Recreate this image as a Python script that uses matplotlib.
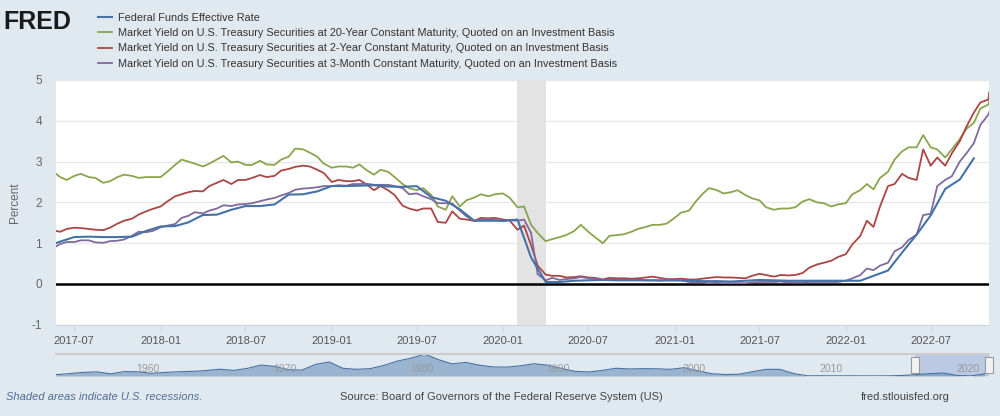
import numpy as np
import pandas as pd
import matplotlib
matplotlib.use("Agg")
import matplotlib.pyplot as plt
from matplotlib.patches import Rectangle
import matplotlib.transforms as mtransforms

plt.rcParams['font.family'] = ['Liberation Sans Narrow', 'Liberation Sans', 'DejaVu Sans']
plt.rcParams['axes.unicode_minus'] = False

# --- daily series, sampled on the 1st / 15th of each month ---
dates = pd.to_datetime(['2017-05-23']
                       + list(pd.date_range('2017-06-01', '2022-11-01', freq='SMS').strftime('%Y-%m-%d'))
                       + ['2022-11-03'])

yield_20y = [
    2.70,
    2.62, 2.55, 2.65, 2.70, 2.62, 2.60, 2.48, 2.52, 2.62, 2.68, 2.65, 2.60, 2.62, 2.62,
    2.62, 2.75, 2.92, 3.05, 3.00, 2.95, 2.88, 2.95, 3.05, 3.14, 2.98, 3.00, 2.92, 2.92, 3.02, 2.93, 2.92, 3.05, 3.12, 3.32, 3.30, 3.22, 3.12, 2.95,
    2.85, 2.88, 2.88, 2.85, 2.93, 2.80, 2.68, 2.80, 2.75, 2.62, 2.45, 2.35, 2.30, 2.35, 2.18, 1.90, 1.82, 2.15, 1.90, 2.05, 2.12, 2.20, 2.15, 2.20,
    2.22, 2.12, 1.88, 1.90, 1.45, 1.25, 1.05, 1.10, 1.15, 1.20, 1.30, 1.45, 1.28, 1.15, 1.00, 1.18, 1.20, 1.22, 1.28, 1.35, 1.40, 1.45, 1.45, 1.48,
    1.62, 1.75, 1.80, 2.02, 2.20, 2.35, 2.30, 2.22, 2.25, 2.30, 2.18, 2.10, 2.05, 1.88, 1.82, 1.85, 1.85, 1.88, 2.02, 2.08, 2.00, 1.98, 1.90, 1.95,
    1.98, 2.20, 2.30, 2.45, 2.32, 2.60, 2.75, 3.05, 3.25, 3.35, 3.35, 3.65, 3.35, 3.30, 3.10, 3.30, 3.55, 3.80, 3.95, 4.30, 4.40,
    4.48]

yield_2y = [
    1.30,
    1.28, 1.35, 1.38, 1.37, 1.35, 1.33, 1.32, 1.38, 1.48, 1.55, 1.60, 1.70, 1.78, 1.84,
    1.90, 2.02, 2.15, 2.20, 2.25, 2.28, 2.27, 2.40, 2.48, 2.55, 2.45, 2.55, 2.55, 2.60, 2.67, 2.62, 2.65, 2.78, 2.82, 2.87, 2.90, 2.88, 2.80, 2.72,
    2.50, 2.55, 2.52, 2.52, 2.55, 2.45, 2.30, 2.40, 2.30, 2.18, 1.92, 1.85, 1.80, 1.85, 1.85, 1.52, 1.50, 1.78, 1.60, 1.58, 1.55, 1.62, 1.61, 1.62,
    1.58, 1.56, 1.33, 1.43, 0.95, 0.45, 0.23, 0.20, 0.20, 0.16, 0.17, 0.19, 0.16, 0.15, 0.11, 0.15, 0.14, 0.14, 0.13, 0.14, 0.16, 0.18, 0.15, 0.12,
    0.12, 0.13, 0.11, 0.11, 0.13, 0.15, 0.17, 0.16, 0.16, 0.15, 0.14, 0.20, 0.25, 0.22, 0.18, 0.22, 0.21, 0.22, 0.27, 0.40, 0.48, 0.52, 0.57, 0.66,
    0.73, 0.97, 1.18, 1.55, 1.40, 1.90, 2.40, 2.45, 2.70, 2.60, 2.55, 3.30, 2.90, 3.10, 2.90, 3.20, 3.50, 3.85, 4.20, 4.45, 4.52,
    4.70]

yield_3m = [
    0.92,
    0.98, 1.03, 1.03, 1.07, 1.07, 1.02, 1.01, 1.05, 1.06, 1.09, 1.18, 1.28, 1.27, 1.30,
    1.39, 1.43, 1.47, 1.62, 1.67, 1.76, 1.73, 1.80, 1.85, 1.93, 1.91, 1.95, 1.96, 1.98, 2.03, 2.07, 2.11, 2.17, 2.23, 2.31, 2.34, 2.35, 2.37, 2.40,
    2.40, 2.42, 2.41, 2.45, 2.45, 2.46, 2.43, 2.43, 2.43, 2.40, 2.35, 2.20, 2.22, 2.15, 2.08, 1.98, 1.98, 1.97, 1.80, 1.66, 1.54, 1.58, 1.59, 1.57,
    1.54, 1.56, 1.55, 1.58, 1.25, 0.24, 0.09, 0.15, 0.10, 0.12, 0.14, 0.17, 0.14, 0.13, 0.10, 0.10, 0.11, 0.10, 0.10, 0.11, 0.09, 0.09, 0.08, 0.09,
    0.09, 0.09, 0.05, 0.04, 0.04, 0.02, 0.03, 0.02, 0.02, 0.02, 0.02, 0.04, 0.05, 0.05, 0.05, 0.06, 0.04, 0.04, 0.04, 0.05, 0.05, 0.05, 0.05, 0.05,
    0.08, 0.14, 0.22, 0.38, 0.34, 0.45, 0.52, 0.80, 0.90, 1.08, 1.21, 1.69, 1.72, 2.40, 2.55, 2.64, 3.00, 3.20, 3.45, 3.90, 4.15,
    4.22]

# --- monthly fed funds ---
ff_dates = pd.date_range('2017-05-01', '2022-10-01', freq='MS')
fed_funds = [
    0.91, 1.04, 1.15, 1.16, 1.15, 1.15, 1.16, 1.30,
    1.41, 1.42, 1.51, 1.69, 1.70, 1.82, 1.91, 1.91, 1.95, 2.19, 2.20, 2.27,
    2.40, 2.40, 2.41, 2.42, 2.39, 2.38, 2.40, 2.13, 2.04, 1.83, 1.55, 1.55,
    1.55, 1.58, 0.65, 0.05, 0.05, 0.08, 0.09, 0.10, 0.09, 0.09, 0.09, 0.09,
    0.09, 0.08, 0.07, 0.07, 0.06, 0.08, 0.10, 0.09, 0.08, 0.08, 0.08, 0.08,
    0.08, 0.08, 0.20, 0.33, 0.77, 1.21, 1.68, 2.33, 2.56, 3.08]

recession = ('2020-02-01', '2020-04-01')
x_ticks = pd.date_range('2017-07-01', '2022-07-01', freq='6MS')

# navigator: annual average fed funds, whole history
nav_years = np.arange(1954, 2023) + 0.5
nav_ff = [1.0, 1.8, 2.7, 3.1, 1.6, 3.3, 3.2, 2.0, 2.7, 3.2, 3.5, 4.1, 5.1, 4.2, 5.7, 8.2,
          7.2, 4.7, 4.4, 8.7, 10.5, 5.8, 5.0, 5.5, 7.9, 11.2, 13.4, 16.4, 12.3, 9.1, 10.2, 8.1,
          6.8, 6.7, 7.6, 9.2, 8.1, 5.7, 3.5, 3.0, 4.2, 5.8, 5.3, 5.5, 5.4, 5.0, 6.2, 3.9,
          1.7, 1.1, 1.35, 3.2, 5.0, 5.0, 1.9, 0.16, 0.18, 0.1, 0.14, 0.11, 0.09, 0.13, 0.4,
          1.0, 1.8, 2.2, 0.4, 0.08, 1.7]
nav_labels = [1960, 1970, 1980, 1990, 2000, 2010, 2020]

labels = ['Federal Funds Effective Rate',
          'Market Yield on U.S. Treasury Securities at 20-Year Constant Maturity, Quoted on an Investment Basis',
          'Market Yield on U.S. Treasury Securities at 2-Year Constant Maturity, Quoted on an Investment Basis',
          'Market Yield on U.S. Treasury Securities at 3-Month Constant Maturity, Quoted on an Investment Basis']
colors = ['#4572a7', '#89a54e', '#aa4643', '#80699b']

bg = '#e1e9f0'
fig = plt.figure(figsize=(10, 4.16), dpi=100, facecolor=bg)

ax = fig.add_axes([0.056, 1 - 324.8 / 416, 0.9333, 244.8 / 416])
ax.set_facecolor('white')
ax.axvspan(pd.Timestamp(recession[0]), pd.Timestamp(recession[1]), color='#e3e3e3', lw=0, zorder=1)
for yv in range(-1, 6):
    ax.axhline(yv, color='#e8e8e8', lw=1, zorder=0)
ax.axhline(0, color='black', lw=1.8, zorder=2)

l_ff, = ax.plot(ff_dates, fed_funds, color=colors[0], lw=1.5, zorder=6)
l_20, = ax.plot(dates, yield_20y, color=colors[1], lw=1.3, zorder=3)
l_2, = ax.plot(dates, yield_2y, color=colors[2], lw=1.3, zorder=4)
l_3m, = ax.plot(dates, yield_3m, color=colors[3], lw=1.3, zorder=5)

ax.set_xlim(pd.Timestamp('2017-05-23'), pd.Timestamp('2022-11-03'))
ax.set_ylim(-1, 5)
ax.set_yticks(range(-1, 6))
ax.set_xticks(x_ticks)
ax.set_xticklabels([d.strftime('%Y-%m') for d in x_ticks])
for s in ['top', 'right', 'left']:
    ax.spines[s].set_visible(False)
ax.spines['bottom'].set_color('#ccd6eb')
ax.tick_params(axis='x', length=5, color='#ccd6eb', labelcolor='#555555', labelsize=8, pad=3)
ax.tick_params(axis='y', length=0, labelcolor='#666666', labelsize=8.5, pad=10)
ax.set_ylabel('Percent', color='#666666', fontsize=8.5)
ax.yaxis.set_label_coords(-0.037, 0.5)

fig.legend([l_ff, l_20, l_2, l_3m], labels, loc='upper left', bbox_to_anchor=(0.098, 1 - 13 / 416),
           frameon=False, fontsize=7.8, handlelength=1.3, handletextpad=0.55, labelspacing=0.48,
           borderpad=0, borderaxespad=0, labelcolor='#333333')

fig.text(0.003, 1 - 29 / 416, 'FRED', fontsize=18, fontweight='bold', color='#1a1a1a',
         family=['Liberation Sans', 'DejaVu Sans'], va='baseline')

# navigator
nav = fig.add_axes([0.056, 1 - 376 / 416, 0.9333, 22 / 416])
nav.set_facecolor(bg)
nav.fill_between(nav_years, nav_ff, color='#4572a7', alpha=0.45, lw=0)
nav.plot(nav_years, nav_ff, color='#4572a7', lw=0.8)
nav.axvspan(2017.39, 2022.84, color='#6685c2', alpha=0.3, lw=0)
nav.set_xlim(1954.5, 2022.84)
nav.set_ylim(0, 16.5)
nav.set_xticks([])
nav.set_yticks([])
for s in nav.spines.values():
    s.set_visible(False)
nav.axhline(16.5, color='#cccccc', lw=1.5, clip_on=False)
trans = mtransforms.blended_transform_factory(nav.transData, nav.transAxes)
for yr in nav_labels:
    nav.text(yr + 0.4, 0.3, str(yr), transform=trans, color='#999999', fontsize=7.5, ha='left', va='center')
for xh in (2017.39, 2022.84):
    nav.add_patch(Rectangle((xh - 0.3, 0.15), 0.6, 0.7, transform=trans, facecolor='#f2f2f2',
                            edgecolor='#999999', lw=0.8, clip_on=False, zorder=5))

fig.text(0.006, 1 - 397 / 416, 'Shaded areas indicate U.S. recessions.', fontsize=8, style='italic',
         color='#4f6d94', va='center')
fig.text(0.501, 1 - 397 / 416, 'Source: Board of Governors of the Federal Reserve System (US)', fontsize=8,
         color='#444444', va='center', ha='center')
fig.text(0.950, 1 - 397 / 416, 'fred.stlouisfed.org', fontsize=8, color='#444444', va='center', ha='right')

fig.savefig('out.png', dpi=100, facecolor=bg)
